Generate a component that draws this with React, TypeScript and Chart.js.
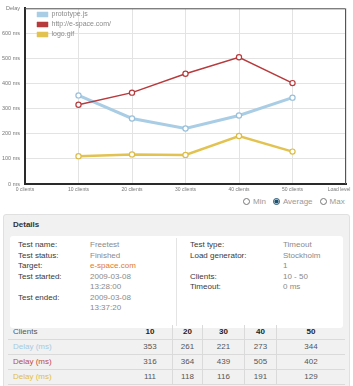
import React, { useEffect, useRef } from 'react';
import { Chart, registerables } from 'chart.js';
Chart.register(...registerables);

const clients = [10, 20, 30, 40, 50];
const seriesNames = ['prototype.js', 'http://e-space.com/', 'logo.gif'];
const prototypeDelay = [353, 261, 221, 273, 344];
const espaceDelay = [316, 364, 439, 505, 402];
const logoDelay = [111, 118, 116, 191, 129];
const xTickLabels = ['0 clients', '10 clients', '20 clients', '30 clients', '40 clients', '50 clients', 'Load level'];
const yTickLabels = ['0 ms', '100 ms', '200 ms', '300 ms', '400 ms', '500 ms', '600 ms', 'Delay'];
const radioOptions = ['Min', 'Average', 'Max'];
const detailsLeft: [string, string][] = [
  ['Test name:', 'Freetest'],
  ['Test status:', 'Finished'],
  ['Target:', 'e-space.com'],
  ['Test started:', '2009-03-08'],
  ['', '13:28:00'],
  ['Test ended:', '2009-03-08'],
  ['', '13:37:20'],
];
const detailsRight: [string, string][] = [
  ['Test type:', 'Timeout'],
  ['Load generator:', 'Stockholm'],
  ['', '1'],
  ['Clients:', '10 - 50'],
  ['Timeout:', '0 ms'],
];
const tableRowLabel = 'Delay (ms)';

const seriesColors = ['#a9cde4', '#b73a3c', '#e2c352'];
const pointColors = ['#98c0da', '#b73a3c', '#dcbc48'];
const labelColors = ['#a6cbe2', '#c04a4a', '#e0be45'];

const FONT = "'Liberation Sans', Arial, sans-serif";

const framePlugin = {
  id: 'frame',
  beforeDatasetsDraw(chart: any) {
    const { ctx, chartArea: a } = chart;
    ctx.save();
    ctx.strokeStyle = '#555';
    ctx.lineWidth = 1;
    ctx.beginPath();
    ctx.moveTo(a.left, a.top + 0.5);
    ctx.lineTo(a.right - 0.5, a.top + 0.5);
    ctx.lineTo(a.right - 0.5, a.bottom);
    ctx.stroke();
    ctx.restore();
  },
};

const legendShift = {
  id: 'legendShift',
  afterLayout(chart: any) {
    const l = chart.legend;
    if (l) {
      l.left += 9;
      l.right += 9;
      l.top += 8;
      l.bottom += 8;
    }
  },
};

function ChartBox() {
  const ref = useRef<HTMLCanvasElement>(null);
  useEffect(() => {
    document.body.style.margin = '0';
    Chart.defaults.font.family = FONT;
    const series = [prototypeDelay, espaceDelay, logoDelay];
    const widths = [3, 1.5, 2.5];
    const orders = [1, 0, 2];
    const chart = new Chart(ref.current!, {
      type: 'line',
      data: {
        datasets: series.map((vals, i) => ({
          label: seriesNames[i],
          data: clients.map((c, j) => ({ x: c, y: vals[j] })),
          borderColor: seriesColors[i],
          backgroundColor: seriesColors[i],
          borderWidth: widths[i],
          pointRadius: 2.6,
          pointBackgroundColor: '#ffffff',
          pointBorderColor: pointColors[i],
          pointBorderWidth: 1.2,
          tension: 0,
          order: orders[i],
        })),
      },
      options: {
        animation: false,
        responsive: false,
        devicePixelRatio: 1,
        layout: { padding: 0 },
        plugins: {
          tooltip: { enabled: false },
          legend: {
            position: 'chartArea' as any,
            align: 'start',
            labels: {
              boxWidth: 11,
              boxHeight: 5,
              padding: 3,
              color: '#8a8a8a',
              font: { size: 7, family: FONT },
              sort: (a: any, b: any) => a.datasetIndex - b.datasetIndex,
              generateLabels: (ch: any) => {
                const items = Chart.defaults.plugins.legend.labels.generateLabels(ch);
                return items.map((it: any) => ({ ...it, lineWidth: 0.5 }));
              },
            },
          },
        },
        scales: {
          x: {
            type: 'linear',
            min: 0,
            max: 60,
            afterFit: (s: any) => {
              s.height = 12;
              s.paddingRight = 7;
            },
            grid: { color: '#e3e3e3', drawTicks: false },
            border: { color: '#2a2a2a', width: 2 },
            ticks: {
              stepSize: 10,
              padding: 3,
              color: '#777',
              font: { size: 5, family: FONT },
              maxRotation: 0,
              autoSkip: false,
              callback: (v: any) => {
                const i = Math.round(Number(v) / 10);
                const t = xTickLabels[i] ?? '';
                return i === 6 ? t + '\u00a0\u00a0\u00a0\u00a0\u00a0\u00a0\u00a0\u00a0\u00a0\u00a0' : t;
              },
            },
          },
          y: {
            min: 0,
            max: 700,
            afterFit: (s: any) => {
              s.width = 25;
            },
            grid: { color: '#e3e3e3', drawTicks: false },
            border: { color: '#2a2a2a', width: 2 },
            ticks: {
              stepSize: 100,
              padding: 5,
              color: '#777',
              font: { size: 5.5, family: FONT },
              callback: (v: any) => yTickLabels[Math.round(Number(v) / 100)] ?? '',
            },
          },
        },
      },
      plugins: [framePlugin, legendShift],
    });
    return () => chart.destroy();
  }, []);
  return <canvas ref={ref} width={353} height={196} style={{ display: 'block', width: 353, height: 196 }} />;
}

export default function App() {
  const text: React.CSSProperties = { fontFamily: FONT, fontSize: 8, lineHeight: '10.5px', position: 'absolute' };
  const colX = [8, 128, 172, 202, 244, 276, 345];
  return (
    <div style={{ position: 'relative', width: 353, height: 386, overflow: 'hidden', background: '#fff', fontFamily: FONT }}>
      <ChartBox />
      <div style={{ position: 'absolute', top: 196, left: 243, height: 10, display: 'flex', alignItems: 'center', fontSize: 8, color: '#999' }}>
        {radioOptions.map((o, i) => (
          <label key={o} style={{ display: 'flex', alignItems: 'center', marginRight: 7 }}>
            <input type="radio" name="mode" defaultChecked={i === 1} style={{ width: 7, height: 7, margin: '0 3px 0 0', accentColor: '#1f4f6e' }} />
            {o}
          </label>
        ))}
      </div>
      <div style={{ position: 'absolute', top: 214, left: 3, width: 345, height: 190, background: '#f1f1f1', border: '1px solid #e0e0e0', borderRadius: 3 }} />
      <div style={{ ...text, top: 220, left: 13, fontWeight: 'bold', color: '#333' }}>Details</div>
      <div style={{ position: 'absolute', top: 236, left: 10, width: 333, height: 92, background: '#fff', borderRadius: 3 }} />
      <div style={{ position: 'absolute', top: 238, left: 176, width: 1, height: 88, background: '#e4e4e4' }} />
      {detailsLeft.map(([l, v], i) => (
        <React.Fragment key={'l' + i}>
          <div style={{ ...text, top: 240 + i * 10.5, left: 18, color: '#3a3a3a' }}>{l}</div>
          <div style={{ ...text, top: 240 + i * 10.5, left: 90, color: i === 2 ? '#e07a2a' : '#8a8a8a' }}>{v}</div>
        </React.Fragment>
      ))}
      {detailsRight.map(([l, v], i) => (
        <React.Fragment key={'r' + i}>
          <div style={{ ...text, top: 240 + i * 10.5, left: 190, color: '#3a3a3a' }}>{l}</div>
          <div style={{ ...text, top: 240 + i * 10.5, left: 283, color: '#8a8a8a' }}>{v}</div>
        </React.Fragment>
      ))}
      {[null, prototypeDelay, espaceDelay, logoDelay].map((row, r) => {
        const top = r === 0 ? 325 : 325 + 15 * r;
        return (
          <div key={'row' + r} style={{ position: 'absolute', top, left: colX[0], width: colX[6] - colX[0], height: 14, borderBottom: '1px solid #dadada' }}>
            <div style={{ position: 'absolute', left: 5, top: 0, lineHeight: '14px', fontSize: 8, color: r === 0 ? '#555' : labelColors[r - 1] }}>
              {r === 0 ? 'Clients' : tableRowLabel}
            </div>
            {clients.map((c, j) => (
              <div key={j} style={{ position: 'absolute', left: colX[j + 1] - colX[0], width: colX[j + 2] - colX[j + 1], top: 0, height: 14, lineHeight: '14px', textAlign: 'center', fontSize: 8, fontWeight: r === 0 ? 'bold' : 'normal', color: r === 0 ? '#222' : '#555', borderLeft: j > 0 ? '1px solid #dadada' : 'none', boxSizing: 'border-box' }}>
                {r === 0 ? c : (row as number[])[j]}
              </div>
            ))}
          </div>
        );
      })}
    </div>
  );
}
